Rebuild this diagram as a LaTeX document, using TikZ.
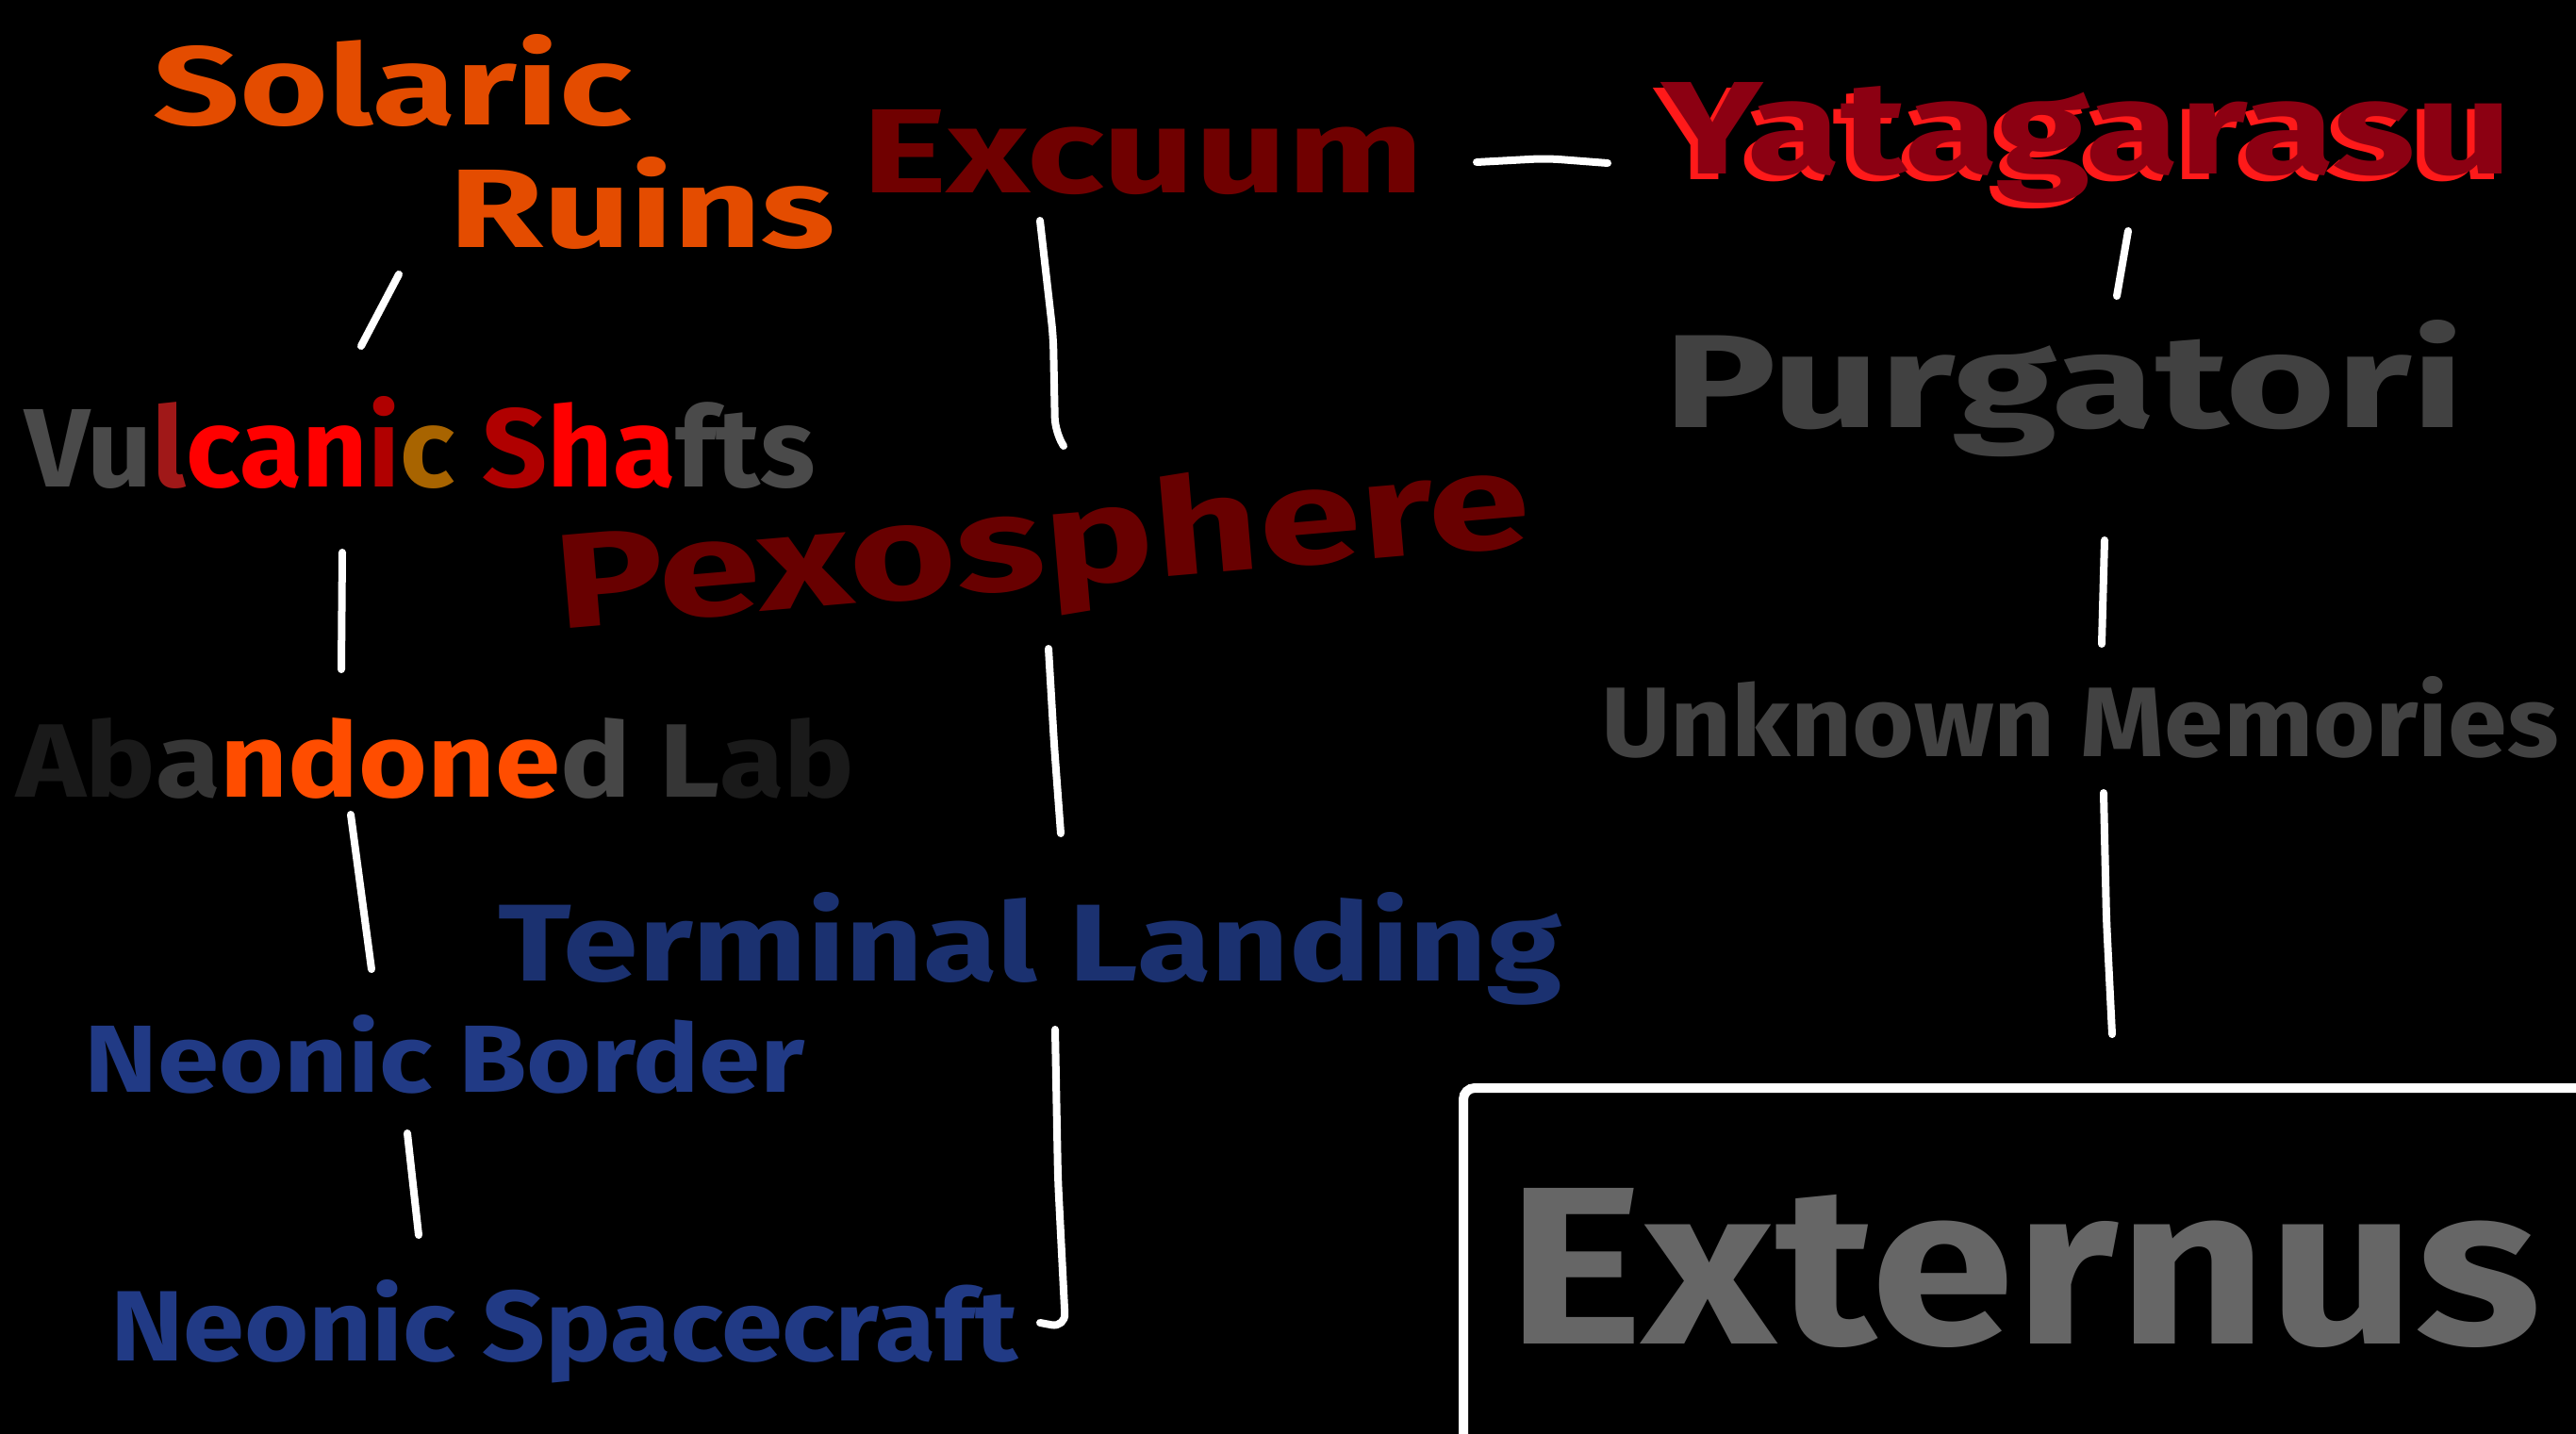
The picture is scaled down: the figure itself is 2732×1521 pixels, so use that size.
\documentclass[tikz,border=0pt]{standalone}
\usepackage{fontspec}
\usepackage{graphicx}
\newfontfamily\wfont{Fira Sans}
\newsavebox\fitbox
\newlength\fitw
\newlength\fith
% #1 font, #2 width (px), #3 height of the tallest glyph (px), #4 text
\newcommand\fitt[4]{%
  \sbox\fitbox{#1#4}%
  \setlength\fitw{\wd\fitbox}\setlength\fith{\ht\fitbox}%
  \pgfmathsetmacro\fitsx{#2*0.2845276/\fitw}%
  \pgfmathsetmacro\fitsy{#3*0.2845276/\fith}%
  \scalebox{\fitsx}[\fitsy]{\usebox\fitbox}}
\newcommand\F{\wfont\bfseries\fontsize{40pt}{48pt}\selectfont}
\definecolor{solar}{HTML}{E44C00}
\definecolor{excu}{HTML}{700000}
\definecolor{yatalite}{HTML}{FF1A1A}
\definecolor{yatadark}{HTML}{8C0012}
\definecolor{purg}{HTML}{414141}
\definecolor{pexo}{HTML}{680000}
\definecolor{unkn}{HTML}{424242}
\definecolor{term}{HTML}{1B3170}
\definecolor{neon}{HTML}{213A85}
\definecolor{extn}{HTML}{666666}
\definecolor{vgray}{HTML}{4A4A4A}
\definecolor{vred}{HTML}{FF0000}
\definecolor{vdred}{HTML}{B00000}
\definecolor{vgold}{HTML}{A86400}
\definecolor{vmix}{HTML}{A01818}
\definecolor{adark}{HTML}{1A1A1A}
\definecolor{amid}{HTML}{363636}
\definecolor{aora}{HTML}{FF4D00}
\definecolor{agray}{HTML}{474747}
\begin{document}
\begin{tikzpicture}[x=0.01cm,y=-0.01cm,
  lbl/.style={anchor=base west, inner sep=0pt, outer sep=0pt},
  link/.style={draw=white, line width=0.8mm, line cap=round, line join=round, rounded corners=1.5mm}]
\fill[black] (0,0) rectangle (2732,1521);
\useasboundingbox (0,0) rectangle (2732,1521);

% ---- left column
\node[lbl, text=solar] (solaric) at (162,132) {\fitt{\F}{508}{96}{Solaric}};
\node[lbl, text=solar] (ruins) at (476,262) {\fitt{\F}{410}{96}{Ruins}};
\node[lbl] (vulcanic) at (26,516) {\fitt{\F}{838}{96}{%
  \textcolor{vgray}{Vu}\textcolor{vmix}{l}\textcolor{vred}{can}\textcolor{vdred}{i}\textcolor{vgold}{c} \textcolor{vdred}{S}\textcolor{vred}{ha}\textcolor{vgray}{fts}}};
\node[lbl] (abandoned) at (17,845) {\fitt{\F}{889}{84}{%
  \textcolor{adark}{Ab}\textcolor{amid}{a}\textcolor{aora}{ndone}\textcolor{agray}{d}
  \textcolor{amid}{L}\textcolor{adark}{ab}}};
\node[lbl, text=neon] (nborder) at (90,1158) {\fitt{\F}{763}{82}{Neonic Border}};
\node[lbl, text=neon] (nspace) at (117,1443) {\fitt{\F}{962}{86}{Neonic Spacecraft}};

% ---- middle column
\node[lbl, text=excu] (excuum) at (914,205) {\fitt{\F}{596}{88}{Excuum}};
\node[lbl, text=pexo, rotate=4.9] (pexo) at (592,667) {\fitt{\F}{1037}{108}{Pexosphere}};
\node[lbl, text=term] (terminal) at (528,1040) {\fitt{\F}{1128}{94}{Terminal Landing}};

% ---- right column
\node[lbl, text=yatalite] (yatashadow) at (1754,190) {\fitt{\F}{902}{97}{Yatagarasu}};
\node[lbl, text=yatadark] (yatagarasu) at (1762,184) {\fitt{\F}{902}{97}{Yatagarasu}};
\node[lbl, text=purg] (purgatori) at (1764,453) {\fitt{\F}{849}{114}{Purgatori}};
\node[lbl, text=unkn] (unknown) at (1698,802) {\fitt{\F}{1015}{85}{Unknown Memories}};
\node[draw=white, line width=1mm, rounded corners=1.2mm, anchor=north west,
      minimum width=130mm, minimum height=45mm, inner sep=0pt] (extbox) at (1547,1149) {};
\node[lbl, text=extn] (externus) at (1598,1425) {\fitt{\F}{1096}{165}{Externus}};

% ---- connector end points
\coordinate (a1) at (423,291);  \coordinate (a2) at (383,367);
\coordinate (b1) at (363,586);  \coordinate (b2) at (362,710);
\coordinate (d1) at (372,864);  \coordinate (d2) at (394,1028);
\coordinate (e1) at (432,1202); \coordinate (e2) at (444,1310);
\coordinate (f1) at (1103,234); \coordinate (f2) at (1117,357); \coordinate (f3) at (1119,458); \coordinate (f4) at (1128,473);
\coordinate (g1) at (1112,688); \coordinate (g2) at (1118,790); \coordinate (g3) at (1125,884);
\coordinate (h1) at (1119,1092); \coordinate (h2) at (1122,1250); \coordinate (h3) at (1130,1408); \coordinate (h4) at (1103,1403);
\coordinate (k1) at (1566,172); \coordinate (k2) at (1640,168); \coordinate (k3) at (1705,173);
\coordinate (m1) at (2257,245); \coordinate (m2) at (2245,314);
\coordinate (n1) at (2232,573); \coordinate (n2) at (2229,683);
\coordinate (p1) at (2231,841); \coordinate (p2) at (2234,975); \coordinate (p3) at (2240,1097);

\draw[link] (a1) -- (a2);
\draw[link] (b1) -- (b2);
\draw[link] (d1) -- (d2);
\draw[link] (e1) -- (e2);
\draw[link] (f1) -- (f2) -- (f3) -- (f4);
\draw[link] (g1) -- (g2) -- (g3);
\draw[link] (h1) -- (h2) -- (h3) -- (h4);
\draw[link] (k1) -- (k2) -- (k3);
\draw[link] (m1) -- (m2);
\draw[link] (n1) -- (n2);
\draw[link] (p1) -- (p2) -- (p3);
\end{tikzpicture}
\end{document}
